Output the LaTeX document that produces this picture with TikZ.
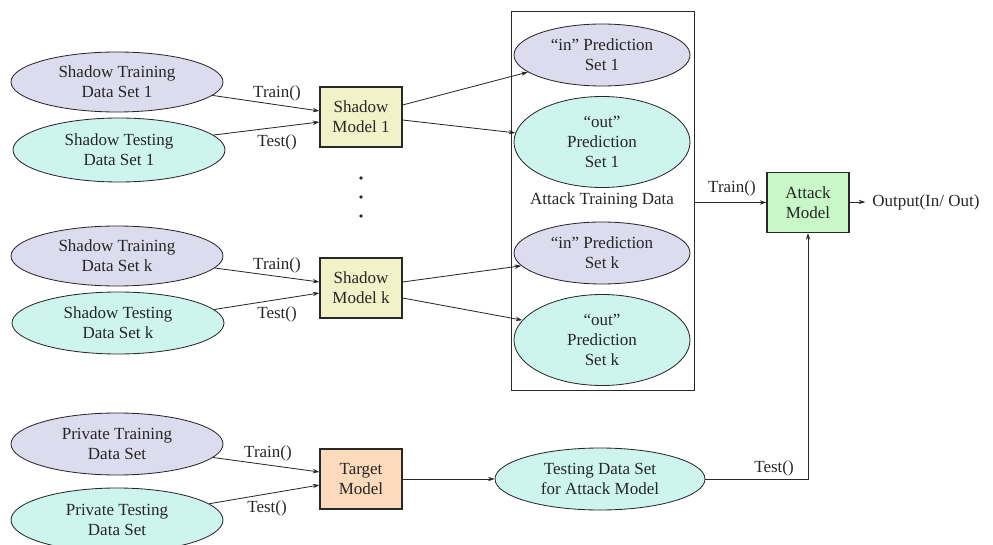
\documentclass[tikz,border=0pt]{standalone}
\usepackage{fontspec}
\setmainfont{Liberation Serif}
\usetikzlibrary{shapes.geometric,arrows.meta,calc}
\definecolor{lav}{RGB}{220,220,238}
\definecolor{cyn}{RGB}{205,245,238}
\definecolor{ylw}{RGB}{242,242,200}
\definecolor{grn}{RGB}{200,248,200}
\definecolor{pch}{RGB}{252,218,188}
\definecolor{ln}{RGB}{40,40,40}
\begin{document}
\begin{tikzpicture}[x=0.6pt,y=-0.6pt, font=\fontsize{10.2}{12}\selectfont,
 every node/.style={align=center, inner sep=0pt, text=black!85},
 ell/.style={ellipse, draw=ln, line width=0.5pt, minimum width=127.2pt, minimum height=36pt},
 pin/.style={ellipse, draw=ln, line width=0.5pt, fill=lav, minimum width=105.6pt, minimum height=37.2pt},
 pout/.style={ellipse, draw=ln, line width=0.5pt, fill=cyn, minimum width=105.6pt, minimum height=54.6pt},
 box/.style={draw=ln, line width=0.7pt, minimum width=49.2pt, minimum height=36pt},
 arr/.style={-{Stealth[length=4pt,width=2.6pt]}, line width=0.5pt, draw=ln}]
\useasboundingbox (0,0) rectangle (993,545);

% shadow 1
\node[ell, fill=lav] (st1) at (117,82) {Shadow Training\\Data Set 1};
\node[ell, fill=cyn, minimum height=38.4pt] (ss1) at (119,150) {Shadow Testing\\Data Set 1};
\node[box, fill=ylw] (sm1) at (361,117) {Shadow\\Model 1};
% shadow k
\node[ell, fill=lav] (stk) at (117,256) {Shadow Training\\Data Set k};
\node[ell, fill=cyn, minimum height=37.2pt] (ssk) at (118,323) {Shadow Testing\\Data Set k};
\node[box, fill=ylw] (smk) at (361,288) {Shadow\\Model k};
% private
\node[ell, fill=lav, minimum height=37.2pt] (pt) at (117,444) {Private Training\\Data Set};
\node[ell, fill=cyn, minimum height=38.4pt] (ps) at (117,520) {Private Testing\\Data Set};
\node[box, fill=pch] (tm) at (361,479) {Target\\Model};

% dots
\fill[ln] (361,178) circle (1.8);
\fill[ln] (361,197) circle (1.8);
\fill[ln] (361,216) circle (1.8);

% attack training frame
\node[draw=ln, line width=0.6pt, minimum width=109.8pt, minimum height=227.4pt] (frame) at (602.5,201.5) {};
\node[pin] (in1) at (602,55) {“in” Prediction\\Set 1};
\node[pout] (out1) at (602,142) {“out”\\Prediction\\Set 1};
\node (atd) at (602,200) {Attack Training Data};
\node[pin] (ink) at (602,253) {“in” Prediction\\Set k};
\node[pout] (outk) at (602,340) {“out”\\Prediction\\Set k};

% attack model
\node[box, fill=grn] (am) at (808,202.5) {Attack\\Model};
\node[anchor=west] (out) at (872,202) {Output(In/ Out)};

% testing data set
\node[ell, fill=cyn, minimum width=126pt, minimum height=37.2pt] (td) at (600,479) {Testing Data Set\\for Attack Model};

% connector labels
\node (l1) at (277,93) {Train()};
\node (l2) at (277,142) {Test()};
\node (l3) at (277,265) {Train()};
\node (l4) at (277,314) {Test()};
\node (l5) at (268,453) {Train()};
\node (l6) at (267,508) {Test()};
\node (l7) at (732,188) {Train()};
\node (l8) at (774,468) {Test()};

% connectors shadow 1
\draw[arr] (st1.-8) -- ($(sm1.west)+(0,-6)$);
\draw[arr] (ss1.9) -- ($(sm1.west)+(0,5)$);
\draw[arr] ($(sm1.east)+(0,-12)$) -- (in1.193);
\draw[arr] ($(sm1.east)+(0,3)$) -- (out1.174);
% shadow k
\draw[arr] (stk.-7) -- ($(smk.west)+(0,-6)$);
\draw[arr] (ssk.8) -- ($(smk.west)+(0,5)$);
\draw[arr] ($(smk.east)+(0,-6)$) -- (ink.189);
\draw[arr] ($(smk.east)+(0,10)$) -- (outk.166);
% private
\draw[arr] (pt.-8) -- ($(tm.west)+(0,-7)$);
\draw[arr] (ps.10) -- ($(tm.west)+(0,6)$);
\draw[arr] (tm.east) -- (td.west);
% attack
\draw[arr] (frame.east |- am.west) -- (am.west);
\draw[arr, shorten >=4pt] (am.east |- out.west) -- (out.west);
\draw[arr] (td.east) -| (am.south);
\end{tikzpicture}
\end{document}
